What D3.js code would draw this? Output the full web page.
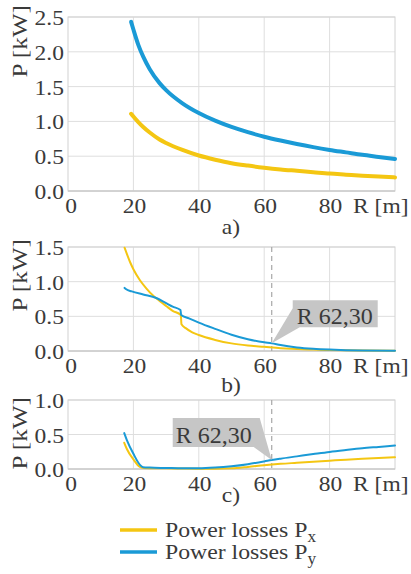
<!DOCTYPE html>
<html>
<head>
<meta charset="utf-8">
<script src="https://cdn.jsdelivr.net/npm/d3@7"></script>
<style>
html,body{margin:0;padding:0;background:#fff;}
svg{display:block;}
</style>
</head>
<body>
<svg id="chart" width="411" height="574"></svg>
<script>
// ---------- data ----------
const xTicks = [0, 20, 40, 60, 80];
const yTicksA = [0, 0.5, 1.0, 1.5, 2.0, 2.5];
const yTicksB = [0, 0.5, 1.0, 1.5];
const yTicksC = [0, 0.5, 1.0];

// panel a)
const rA  = [19.3, 20, 21.5, 23, 25, 28, 30, 35, 40, 45, 50, 55, 60, 65, 70, 75, 80, 85, 90, 95, 100];
const pxA = [1.11, 1.07, 0.99, 0.92, 0.84, 0.74, 0.69, 0.59, 0.51, 0.45, 0.40, 0.365, 0.335, 0.31, 0.29, 0.27, 0.25, 0.235, 0.22, 0.207, 0.195];
const pyA = [2.43, 2.32, 2.10, 1.93, 1.75, 1.55, 1.45, 1.26, 1.12, 1.01, 0.92, 0.845, 0.78, 0.725, 0.675, 0.63, 0.59, 0.555, 0.52, 0.49, 0.46];

// panel b)
const rBx = [17.3, 18, 19, 20, 22, 24, 26, 27, 30, 32, 34.5, 34.7, 36, 38, 40, 45, 50, 55, 60, 65, 70, 75, 80, 90, 100];
const pxB = [1.49, 1.40, 1.28, 1.18, 1.02, 0.90, 0.80, 0.76, 0.65, 0.58, 0.52, 0.385, 0.33, 0.27, 0.23, 0.16, 0.11, 0.08, 0.06, 0.04, 0.03, 0.02, 0.015, 0.008, 0.005];
const rBy = [17.3, 17.8, 19.5, 23, 27, 30, 32, 34.4, 34.6, 37, 40, 45, 50, 55, 60, 62.3, 65, 70, 75, 80, 85, 90, 100];
const pyB = [0.91, 0.89, 0.86, 0.815, 0.765, 0.69, 0.64, 0.59, 0.52, 0.47, 0.41, 0.32, 0.235, 0.17, 0.125, 0.11, 0.085, 0.052, 0.032, 0.02, 0.012, 0.007, 0.003];

// panel c)
const rC  = [17.2, 18, 20, 22, 23, 25, 30, 35, 40, 45, 50, 55, 60, 62.3, 65, 70, 75, 80, 85, 90, 95, 100];
const pxC = [0.38, 0.29, 0.14, 0.03, 0.015, 0.012, 0.01, 0.007, 0.005, 0.005, 0.01, 0.03, 0.055, 0.065, 0.075, 0.09, 0.105, 0.12, 0.135, 0.148, 0.16, 0.17];
const pyC = [0.52, 0.42, 0.22, 0.06, 0.025, 0.02, 0.015, 0.01, 0.01, 0.02, 0.04, 0.07, 0.11, 0.13, 0.15, 0.183, 0.216, 0.248, 0.275, 0.30, 0.32, 0.34];

// annotation (R value, P value of marked point) for b) and c)
const markR = 62.3;
const markLabel = "R 62,30";
const markPB = 0.11;
const markPC = 0.13;

const legendLabels = ["Power losses P", "Power losses P"];
const legendSubs = ["x", "y"];

// ---------- styling ----------
const FONT = "Liberation Serif, serif";
const INK = "#3a3a3a";
const YELLOW = "#f4c612";
const BLUE = "#1a9ad6";
const GRID = "#dedede";
const FRAME = "#d2d2d2";
const SX = 1.12;

const svg = d3.select("#chart");
const x = d3.scaleLinear().domain([0, 100]).range([68, 395]);

function txt(g, px, py, s, size, anchor, sx) {
  return g.append("text")
    .attr("transform", `translate(${px},${py}) scale(${sx || SX},1)`)
    .attr("text-anchor", anchor || "start")
    .attr("font-family", FONT)
    .attr("font-size", size)
    .attr("fill", INK)
    .text(s);
}

const panels = [
  {top: 17, bottom: 191, ymax: 2.5, ticks: yTicksA, lw: 4, cap: "a)", capY: 234, labTop: 5,
   series: [{r: rA, p: pxA, c: YELLOW}, {r: rA, p: pyA, c: BLUE}]},
  {top: 247, bottom: 351, ymax: 1.5, ticks: yTicksB, lw: 2, cap: "b)", capY: 392, labTop: 239,
   series: [{r: rBx, p: pxB, c: YELLOW}, {r: rBy, p: pyB, c: BLUE}], mark: markPB, side: "right"},
  {top: 400, bottom: 469, ymax: 1.0, ticks: yTicksC, lw: 2, cap: "c)", capY: 502, labTop: 397,
   series: [{r: rC, p: pxC, c: YELLOW}, {r: rC, p: pyC, c: BLUE}], mark: markPC, side: "left"}
];

panels.forEach(P => {
  const y = d3.scaleLinear().domain([0, P.ymax]).range([P.bottom, P.top]);
  const g = svg.append("g");

  // grid
  g.selectAll(".hg").data(P.ticks).join("line")
    .attr("x1", x(0)).attr("x2", x(100))
    .attr("y1", d => y(d)).attr("y2", d => y(d))
    .attr("stroke", GRID).attr("stroke-width", 1);
  g.selectAll(".vg").data(xTicks.filter(d => d > 0)).join("line")
    .attr("x1", d => x(d)).attr("x2", d => x(d))
    .attr("y1", P.top).attr("y2", P.bottom)
    .attr("stroke", GRID).attr("stroke-width", 1);
  // frame
  g.append("rect").attr("x", x(0)).attr("y", P.top)
    .attr("width", x(100) - x(0)).attr("height", P.bottom - P.top)
    .attr("fill", "none").attr("stroke", FRAME).attr("stroke-width", 1);
  // bottom axis line (slightly darker)
  g.append("line").attr("x1", x(0)).attr("x2", x(100))
    .attr("y1", P.bottom).attr("y2", P.bottom)
    .attr("stroke", "#c4c4c4").attr("stroke-width", 1);

  // dashed marker
  if (P.mark !== undefined) {
    g.append("line").attr("x1", x(markR)).attr("x2", x(markR))
      .attr("y1", P.top).attr("y2", P.bottom)
      .attr("stroke", "#a8a8a8").attr("stroke-width", 1.2)
      .attr("stroke-dasharray", "5,4");
  }

  // lines
  const line = d3.line().curve(d3.curveMonotoneX);
  P.series.forEach(s => {
    g.append("path")
      .attr("d", line(s.r.map((r, i) => [x(r), y(s.p[i])])))
      .attr("fill", "none").attr("stroke", s.c)
      .attr("stroke-width", P.lw).attr("stroke-linecap", "round")
      .attr("stroke-linejoin", "round");
  });

  // annotation callout
  if (P.mark !== undefined) {
    const tx = x(markR), ty = y(P.mark);
    const a = g.append("g");
    if (P.side === "right") {
      const L = tx + 21, T = ty - 43, W = 85, H = 27;
      a.append("polygon")
        .attr("points", `${L},${T} ${L + W},${T} ${L + W},${T + H} ${L + 7},${T + H} ${tx},${ty} ${L},${T + 8}`)
        .attr("fill", "#c6c6c6");
      txt(a, L + 4, T + 24, markLabel, 24, "start", 1.0);
    } else {
      const L = tx - 99, T = ty - 42, W = 81, H = 29;
      a.append("polygon")
        .attr("points", `${L},${T} ${L + W + 6},${T} ${tx},${ty} ${L + W},${T + H} ${L},${T + H}`)
        .attr("fill", "#c6c6c6");
      txt(a, L + 3, T + 25, markLabel, 24, "start", 1.0);
    }
  }

  // y tick labels
  P.ticks.forEach(t => txt(g, 64, y(t) + 8, d3.format(".1f")(t), 21, "end"));
  // x tick labels
  xTicks.forEach(t => txt(g, x(t) + (t === 0 ? 3 : 1), P.bottom + 22, String(t), 21, "middle"));
  txt(g, 353, P.bottom + 22, "R [m]", 21, "start");

  // y axis title
  g.append("text")
    .attr("transform", `translate(27,${P.labTop}) rotate(-90) scale(1.2,1)`)
    .attr("text-anchor", "end")
    .attr("font-family", FONT)
    .attr("font-size", 21)
    .attr("fill", INK)
    .text("P [kW]");

  // caption
  txt(g, 231, P.capY, P.cap, 21, "middle");
});

// legend
const lg = svg.append("g");
[YELLOW, BLUE].forEach((c, i) => {
  const yy = 530 + i * 22;
  lg.append("line").attr("x1", 120).attr("x2", 157).attr("y1", yy).attr("y2", yy)
    .attr("stroke", c).attr("stroke-width", 3.5);
  const t = lg.append("text")
    .attr("transform", `translate(165,${yy + 7}) scale(1.08,1)`)
    .attr("font-family", FONT)
    .attr("font-size", 22)
    .attr("fill", INK);
  t.append("tspan").text(legendLabels[i]);
  t.append("tspan").attr("dy", 5).attr("font-size", 16).text(legendSubs[i]);
});
</script>
</body>
</html>
